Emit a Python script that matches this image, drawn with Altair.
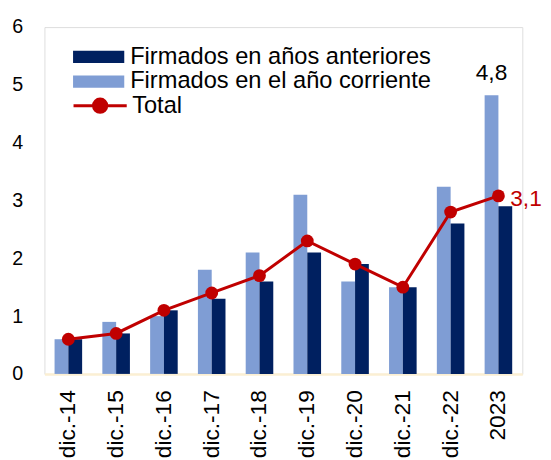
import altair as alt
import pandas as pd

categorias = ["dic.-14", "dic.-15", "dic.-16", "dic.-17", "dic.-18",
              "dic.-19", "dic.-20", "dic.-21", "dic.-22", "2023"]
corriente = [0.6, 0.9, 1.0, 1.8, 2.1, 3.1, 1.6, 1.5, 3.24, 4.82]
anteriores = [0.6, 0.7, 1.1, 1.3, 1.6, 2.1, 1.9, 1.5, 2.6, 2.9]
total = [0.6, 0.7, 1.1, 1.4, 1.7, 2.3, 1.9, 1.5, 2.8, 3.08]

S_ANT = "Firmados en años anteriores"
S_COR = "Firmados en el año corriente"
S_TOT = "Total"

NAVY = "#002060"
LIGHT = "#7F9DD4"
RED = "#C00000"
BEIGE = "#FBEFD3"
FONT = "Liberation Sans"

rows = []
for c, a, b in zip(categorias, corriente, anteriores):
    rows.append({"cat": c, "serie": S_COR, "valor": a})
    rows.append({"cat": c, "serie": S_ANT, "valor": b})
df = pd.DataFrame(rows)
df["lbl"] = df["valor"].map(lambda v: f"{v:.1f}".replace(".", ","))

dft = pd.DataFrame({"cat": categorias, "total": total, "s": S_TOT})
dft["lbl"] = dft["total"].map(lambda v: f"{v:.1f}".replace(".", ","))

xenc = alt.X(
    "cat:N", sort=categorias,
    scale=alt.Scale(domain=categorias, paddingInner=0.423, paddingOuter=0.2115),
    axis=alt.Axis(title=None, labelAngle=-90, labelAlign="right", labelBaseline="middle",
                  ticks=False, domainColor=BEIGE, domainWidth=2.5, labelPadding=16,
                  labelFontSize=23, labelColor="black", labelFont=FONT, labelLimit=0),
)
yenc_scale = alt.Scale(domain=[0, 6], nice=False)
yaxis = alt.Axis(title=None, values=[0, 1, 2, 3, 4, 5, 6], format="d", domain=False,
                 ticks=False, grid=False, labelFontSize=20, labelPadding=22,
                 labelColor="black", labelFont=FONT)

bars = alt.Chart(df).mark_bar().encode(
    x=xenc,
    xOffset=alt.XOffset("serie:N", sort=[S_COR, S_ANT],
                        scale=alt.Scale(domain=[S_COR, S_ANT], paddingInner=0, paddingOuter=0)),
    y=alt.Y("valor:Q", scale=yenc_scale, axis=yaxis),
    color=alt.Color(
        "serie:N",
        scale=alt.Scale(domain=[S_ANT, S_COR], range=[NAVY, LIGHT]),
        legend=alt.Legend(title=None, orient="none", legendX=29, legendY=18,
                          symbolType="M-1,-0.24H1V0.24H-1Z", symbolSize=2704,
                          labelFontSize=24, labelFont=FONT, labelColor="black",
                          labelLimit=0, clipHeight=24.5, rowPadding=0, labelOffset=6,
                          padding=0, symbolStrokeWidth=0, symbolOpacity=1),
    ),
)

line = alt.Chart(dft).mark_line(strokeWidth=3).encode(
    x=alt.X("cat:N", sort=categorias),
    y=alt.Y("total:Q", scale=yenc_scale),
    stroke=alt.Stroke(
        "s:N",
        scale=alt.Scale(domain=[S_TOT], range=[RED]),
        legend=alt.Legend(title=None, orient="none", legendX=28, legendY=67.5,
                          symbolType="M-1,0H1M-0.25,0A0.25,0.25 0 1,1 0.25,0A0.25,0.25 0 1,1 -0.25,0Z",
                          symbolSize=2916, symbolStrokeWidth=3, symbolFillColor=RED,
                          symbolStrokeColor=RED, symbolOpacity=1,
                          labelFontSize=24, labelFont=FONT, labelColor="black",
                          labelLimit=0, clipHeight=24.5, rowPadding=0, labelOffset=4,
                          padding=0),
    ),
)

pts = alt.Chart(dft).mark_circle(size=169, opacity=1, color=RED).encode(
    x=alt.X("cat:N", sort=categorias),
    y=alt.Y("total:Q", scale=yenc_scale),
)

lbl48 = alt.Chart(df[(df["cat"] == "2023") & (df["serie"] == S_COR)]).mark_text(
    baseline="alphabetic", dy=-16, fontSize=23, font=FONT, color="black"
).encode(
    x=alt.X("cat:N", sort=categorias),
    xOffset=alt.XOffset("serie:N", sort=[S_COR, S_ANT]),
    y=alt.Y("valor:Q", scale=yenc_scale),
    text="lbl:N",
)

lbl31 = alt.Chart(dft[dft["cat"] == "2023"]).mark_text(
    align="left", baseline="middle", dx=12, dy=3, fontSize=23, font=FONT, color=RED
).encode(
    x=alt.X("cat:N", sort=categorias),
    y=alt.Y("total:Q", scale=yenc_scale),
    text="lbl:N",
)

chart = alt.layer(bars, line, pts, lbl48, lbl31).resolve_scale(
    color="independent", stroke="independent"
).properties(
    width=485, height=352,
    autosize=alt.AutoSizeParams(type="none"),
    padding={"left": 37, "top": 16, "right": 21, "bottom": 84},
).configure_view(stroke="#C8C8C8", strokeWidth=1.5).configure(font=FONT)

chart.save("out.html", embed_options={"renderer": "svg", "actions": False})
